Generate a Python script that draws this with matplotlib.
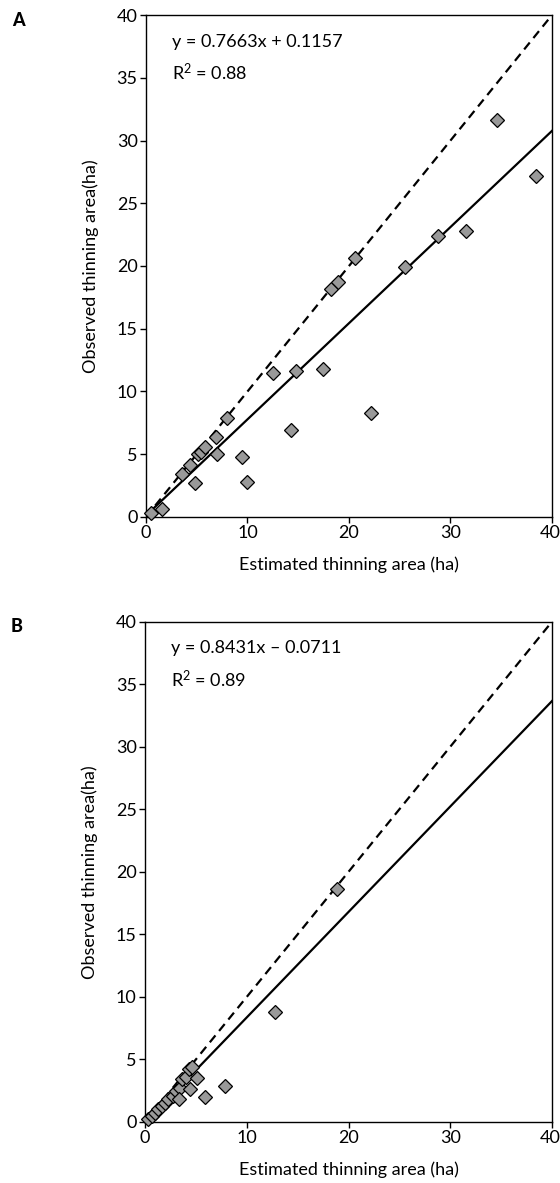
import matplotlib
matplotlib.use("Agg")
import matplotlib.pyplot as plt
import matplotlib.transforms as mtransforms
import numpy as np

plt.rcParams['font.family'] = ['Lato', 'DejaVu Sans']

# Panel A data
est_a = [0.45, 1.6, 3.5, 4.3, 4.85, 5.1, 5.4, 5.8, 6.9, 7.0, 8.0, 9.5, 10.0,
         12.5, 14.3, 14.8, 17.4, 18.2, 18.9, 20.6, 22.2, 25.5, 28.8, 31.5, 34.6, 38.4]
obs_a = [0.35, 0.6, 3.4, 4.15, 2.7, 5.0, 5.2, 5.6, 6.4, 5.0, 7.85, 4.8, 2.8,
         11.45, 6.9, 11.6, 11.8, 18.15, 18.75, 20.6, 8.25, 19.9, 22.4, 22.8, 31.6, 27.2]
slope_a, icpt_a = 0.7663, 0.1157
eq_a = "y = 0.7663x + 0.1157"
r2_a = "0.88"

# Panel B data
est_b = [0.3, 0.7, 1.0, 1.3, 1.7, 2.0, 2.3, 2.7, 3.0, 3.4, 3.3, 3.6, 4.0, 4.3,
         4.6, 4.45, 5.1, 5.85, 7.9, 12.8, 18.9]
obs_b = [0.2, 0.45, 0.7, 1.0, 1.25, 1.55, 1.8, 2.1, 2.45, 2.7, 1.8, 3.4, 3.6, 4.2,
         4.4, 2.6, 3.5, 2.0, 2.9, 8.8, 18.6]
slope_b, icpt_b = 0.8431, -0.0711
eq_b = "y = 0.8431x \u2013 0.0711"
r2_b = "0.89"

xticks = [0, 10, 20, 30, 40]
yticks = [0, 5, 10, 15, 20, 25, 30, 35, 40]
xlabel = "Estimated thinning area (ha)"
ylabel = "Observed thinning area(ha)"

plt.rcParams['mathtext.fontset'] = 'custom'
plt.rcParams['mathtext.rm'] = 'Lato'
plt.rcParams['mathtext.it'] = 'Lato:italic'

fig = plt.figure(figsize=(5.6, 11.83), dpi=100)
axA = fig.add_axes([0.2607, 0.5630, 0.7250, 0.4243])
axB = fig.add_axes([0.2590, 0.0516, 0.7267, 0.4229])

FS = 13

def draw(ax, est, obs, slope, icpt, eq, r2, letter):
    xs = np.array([0, 40])
    ax.plot(xs, xs, color='black', lw=1.6, ls=(0, (4, 2.6)), zorder=2)
    ax.plot(xs, slope * xs + icpt, color='black', lw=1.6, zorder=2)
    ax.plot(est, obs, ls='none', marker='D', ms=7.5, mfc='#999999', mec='black',
            mew=0.9, zorder=3, clip_on=False)
    ax.set_xlim(0, 40)
    ax.set_ylim(0, 40)
    ax.set_xticks(xticks)
    ax.set_yticks(yticks)
    ax.tick_params(direction='out', length=4, width=1, labelsize=FS, pad=2)
    for s in ax.spines.values():
        s.set_linewidth(1)
    ax.set_xlabel(xlabel, fontsize=FS, labelpad=11)
    ax.set_ylabel(ylabel, fontsize=FS, labelpad=13)
    ax.text(0.064, 0.947, eq, transform=ax.transAxes, fontsize=FS, va='center')
    ax.text(0.064, 0.885, "R$^\\mathrm{2}$ = " + r2,
            transform=ax.transAxes, fontsize=FS, va='center')
    ax.text(-0.33, 0.99, letter, transform=ax.transAxes, fontsize=13,
            fontweight='black', va='center')
    # nudge the last x tick label slightly left so it stays inside the figure
    last = ax.get_xticklabels()[-1]
    off = mtransforms.ScaledTranslation(-2 / 100, 0, fig.dpi_scale_trans)
    last.set_transform(last.get_transform() + off)

draw(axA, est_a, obs_a, slope_a, icpt_a, eq_a, r2_a, "A")
draw(axB, est_b, obs_b, slope_b, icpt_b, eq_b, r2_b, "B")

fig.savefig("out.png", dpi=100)
